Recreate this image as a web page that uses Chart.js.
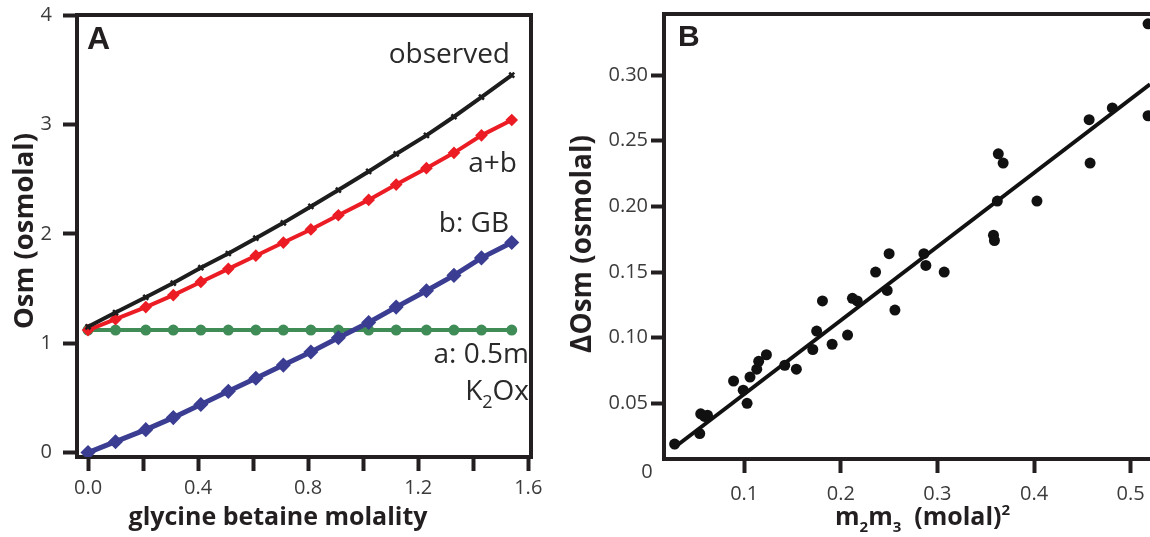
<!DOCTYPE html>
<html><head><meta charset="utf-8">
<script src="https://cdn.jsdelivr.net/npm/chart.js@4.4.0/dist/chart.umd.min.js"></script>
<style>
html,body{margin:0;padding:0;background:#fff;width:1150px;height:537px;overflow:hidden}
#wa{position:absolute;left:0;top:0;width:560px;height:537px}
#wb{position:absolute;left:560px;top:0;width:590px;height:537px}
canvas{display:block}
</style></head><body>
<div id="wa"><canvas id="ca" width="560" height="537"></canvas></div>
<div id="wb"><canvas id="cb" width="590" height="537"></canvas></div>
<script>
// ---------- Panel A data ----------
const molality    = [0, 0.10, 0.21, 0.31, 0.41, 0.51, 0.61, 0.71, 0.81, 0.91, 1.02, 1.12, 1.23, 1.33, 1.43, 1.54];
const observedOsm = [1.15, 1.28, 1.42, 1.55, 1.69, 1.82, 1.96, 2.10, 2.25, 2.40, 2.57, 2.73, 2.90, 3.07, 3.25, 3.45];
const sumOsm      = [1.12, 1.22, 1.33, 1.44, 1.56, 1.68, 1.80, 1.92, 2.04, 2.17, 2.31, 2.45, 2.60, 2.74, 2.90, 3.04];
const gbOsm       = [0.00, 0.10, 0.21, 0.32, 0.44, 0.56, 0.68, 0.80, 0.92, 1.05, 1.19, 1.33, 1.48, 1.62, 1.78, 1.92];
const k2oxOsm     = [1.12, 1.12, 1.12, 1.12, 1.12, 1.12, 1.12, 1.12, 1.12, 1.12, 1.12, 1.12, 1.12, 1.12, 1.12, 1.12];
const xTicksA      = [0, 0.2, 0.4, 0.6, 0.8, 1.0, 1.2, 1.4, 1.6];
const xTickLabelsA = ['0.0', '', '0.4', '', '0.8', '', '1.2', '', '1.6'];
const yTicksA      = [0, 1, 2, 3, 4];
const yTickLabelsA = ['0', '1', '2', '3', '4'];

// ---------- Panel B data ----------
const m2m3 = [0.028, 0.054, 0.055, 0.059, 0.062, 0.089, 0.099, 0.103, 0.106, 0.113, 0.115, 0.123,
              0.142, 0.154, 0.171, 0.175, 0.181, 0.191, 0.207, 0.212, 0.217, 0.236, 0.248, 0.250,
              0.256, 0.286, 0.288, 0.307, 0.358, 0.359, 0.362, 0.363, 0.368, 0.403, 0.457, 0.458,
              0.481, 0.518, 0.518];
const deltaOsm = [0.019, 0.027, 0.042, 0.040, 0.041, 0.067, 0.060, 0.050, 0.070, 0.076, 0.082, 0.087,
                  0.079, 0.076, 0.091, 0.105, 0.128, 0.095, 0.102, 0.130, 0.128, 0.150, 0.136, 0.164,
                  0.121, 0.164, 0.155, 0.150, 0.178, 0.174, 0.204, 0.240, 0.233, 0.204, 0.266, 0.233,
                  0.275, 0.339, 0.269];
const fitX = [0.027, 0.52];
const fitY = [0.016, 0.293];
const xTicksB      = [0.1, 0.2, 0.3, 0.4, 0.5];
const xTickLabelsB = ['0.1', '0.2', '0.3', '0.4', '0.5'];
const yTicksB      = [0.05, 0.10, 0.15, 0.20, 0.25, 0.30];
const yTickLabelsB = ['0.05', '0.10', '0.15', '0.20', '0.25', '0.30'];

// ---------- styling ----------
const INK = '#231f20';
const TXT = '#3b3b3b';
const RED = '#ec1c24';
const BLUE = '#3a3d91';
const GREEN = '#3f8c57';
const SANS = '"Open Sans"';

const pts = (xs, ys) => xs.map((x, i) => ({x: x, y: ys[i]}));

function axis(min, max, ticks, labels, o) {
  return {
    type: 'linear', min: min, max: max,
    afterBuildTicks: s => { s.ticks = ticks.map(v => ({value: v})); },
    afterFit: s => { o.fit(s); s.paddingLeft = 0; s.paddingRight = 0; s.paddingTop = 0; s.paddingBottom = 0; },
    ticks: {autoSkip: false, maxRotation: 0, minRotation: 0, padding: o.pad, color: TXT,
            font: {family: SANS, size: o.fs}, callback: (v, i) => labels[i]},
    grid: {display: true, drawOnChartArea: false, drawTicks: true, tickLength: o.tl, tickWidth: 4, tickColor: INK},
    border: {display: true, width: 4, color: INK}
  };
}

function fitSize(ctx, text, weight, width) {
  ctx.font = weight + ' 20px ' + SANS;
  return 20 * width / ctx.measureText(text).width;
}

const common = {
  responsive: false, animation: false, devicePixelRatio: 1,
  plugins: {legend: {display: false}, tooltip: {enabled: false}},
  events: []
};

// ---------- Panel A ----------
new Chart(document.getElementById('ca'), {
  type: 'scatter',
  data: {datasets: [
    {data: pts(molality, observedOsm), showLine: true, borderColor: '#1d1d1d', backgroundColor: '#1d1d1d',
     borderWidth: 4, pointStyle: 'crossRot', pointRadius: 3.5, pointBorderWidth: 2.5},
    {data: pts(molality, sumOsm), showLine: true, borderColor: RED, backgroundColor: RED,
     borderWidth: 4, pointStyle: 'rectRot', pointRadius: 3.5},
    {data: pts(molality, gbOsm), showLine: true, borderColor: BLUE, backgroundColor: BLUE,
     borderWidth: 5, pointStyle: 'rectRot', pointRadius: 4},
    {data: pts(molality, k2oxOsm), showLine: true, borderColor: GREEN, backgroundColor: GREEN,
     borderWidth: 4, pointStyle: 'circle', pointRadius: 3.5}
  ]},
  options: Object.assign({}, common, {
    layout: {autoPadding: false, padding: {left: 0, top: 15, right: 29, bottom: 0}},
    scales: {
      x: axis(-0.04, 1.61, xTicksA, xTickLabelsA, {fit: s => { s.height = 80; }, pad: 5, fs: 20, tl: 14}),
      y: axis(-0.04, 4, yTicksA, yTickLabelsA, {fit: s => { s.width = 77; }, pad: 11, fs: 20, tl: 14})
    }
  }),
  plugins: [{
    id: 'decoA',
    afterDraw(c) {
      const ctx = c.ctx, a = c.chartArea;
      ctx.save();
      ctx.strokeStyle = INK; ctx.lineWidth = 4;
      ctx.beginPath(); ctx.moveTo(a.left - 2, a.top); ctx.lineTo(a.right, a.top); ctx.lineTo(a.right, a.bottom + 2); ctx.stroke();
      ctx.fillStyle = INK; ctx.textBaseline = 'alphabetic'; ctx.textAlign = 'left';
      ctx.font = 'bold 32px "Liberation Sans"';
      ctx.fillText('A', 87, 49);
      // series labels
      ctx.fillStyle = '#2a2a2a'; ctx.textAlign = 'right';
      ctx.font = '28px ' + SANS;
      ctx.fillText('observed', 510, 63);
      ctx.fillText('a+b', 517, 172);
      ctx.fillText('b: GB', 509, 232);
      ctx.fillText('a: 0.5m', 529, 363);
      const wOx = ctx.measureText('Ox').width, wK = ctx.measureText('K').width;
      ctx.font = '18px ' + SANS; const w2 = ctx.measureText('2').width;
      let x0 = 529 - wOx - w2 - wK;
      ctx.textAlign = 'left';
      ctx.font = '28px ' + SANS; ctx.fillText('K', x0, 400);
      ctx.font = '18px ' + SANS; ctx.fillText('2', x0 + wK, 408);
      ctx.font = '28px ' + SANS; ctx.fillText('Ox', x0 + wK + w2, 400);
      // axis titles
      ctx.fillStyle = INK;
      let fs = fitSize(ctx, 'glycine betaine molality', 'bold', 299);
      ctx.font = 'bold ' + fs + 'px ' + SANS; ctx.textAlign = 'center';
      ctx.fillText('glycine betaine molality', 278, 525);
      fs = fitSize(ctx, 'Osm (osmolal)', 'bold', 196);
      ctx.translate(33, 231); ctx.rotate(-Math.PI / 2);
      ctx.font = 'bold ' + fs + 'px ' + SANS; ctx.textAlign = 'center';
      ctx.fillText('Osm (osmolal)', 0, 0);
      ctx.restore();
    }
  }]
});

// ---------- Panel B ----------
new Chart(document.getElementById('cb'), {
  type: 'scatter',
  data: {datasets: [
    {data: pts(m2m3, deltaOsm), showLine: false, backgroundColor: '#111', borderColor: '#111',
     pointRadius: 5.5, pointBorderWidth: 0, clip: false},
    {data: pts(fitX, fitY), showLine: true, borderColor: '#111', borderWidth: 4, pointRadius: 0}
  ]},
  options: Object.assign({}, common, {
    layout: {autoPadding: false, padding: {left: 0, top: 14, right: 0, bottom: 0}},
    scales: {
      x: axis(0.017, 0.52, xTicksB, xTickLabelsB, {fit: s => { s.height = 78; }, pad: 9, fs: 20, tl: 14}),
      y: axis(0.0076, 0.3465, yTicksB, yTickLabelsB, {fit: s => { s.width = 104; }, pad: 3, fs: 20, tl: 13})
    }
  }),
  plugins: [{
    id: 'decoB',
    afterDraw(c) {
      const ctx = c.ctx, a = c.chartArea;
      ctx.save();
      ctx.strokeStyle = INK; ctx.lineWidth = 4;
      ctx.beginPath(); ctx.moveTo(a.left - 2, a.top); ctx.lineTo(a.right, a.top); ctx.stroke();
      ctx.fillStyle = INK; ctx.textBaseline = 'alphabetic'; ctx.textAlign = 'left';
      ctx.font = 'bold 30px "Liberation Sans"';
      ctx.fillText('B', 118, 46);
      // origin label
      ctx.fillStyle = TXT; ctx.font = '20px ' + SANS; ctx.textAlign = 'center'; ctx.textBaseline = 'middle';
      ctx.fillText('0', 87, c.scales.y.getPixelForValue(0) + 3);
      // x title with sub/superscripts
      ctx.fillStyle = INK; ctx.textBaseline = 'alphabetic'; ctx.textAlign = 'left';
      const big = 'bold 25px ' + SANS, small = 'bold 15px ' + SANS;
      const parts = [['m', big, 0], ['2', small, 7], ['m', big, 0], ['3', small, 7], ['  (molal)', big, 0], ['2', small, -10]];
      let x = 275;
      for (const p of parts) { ctx.font = p[1]; ctx.fillText(p[0], x, 525 + p[2]); x += ctx.measureText(p[0]).width; }
      // y title
      const fs = fitSize(ctx, '\u0394Osm (osmolal)', 'bold', 218);
      ctx.translate(31, 244); ctx.rotate(-Math.PI / 2);
      ctx.font = 'bold ' + fs + 'px ' + SANS; ctx.textAlign = 'center';
      ctx.fillText('\u0394Osm (osmolal)', 0, 0);
      ctx.restore();
    }
  }]
});
</script>
</body></html>
